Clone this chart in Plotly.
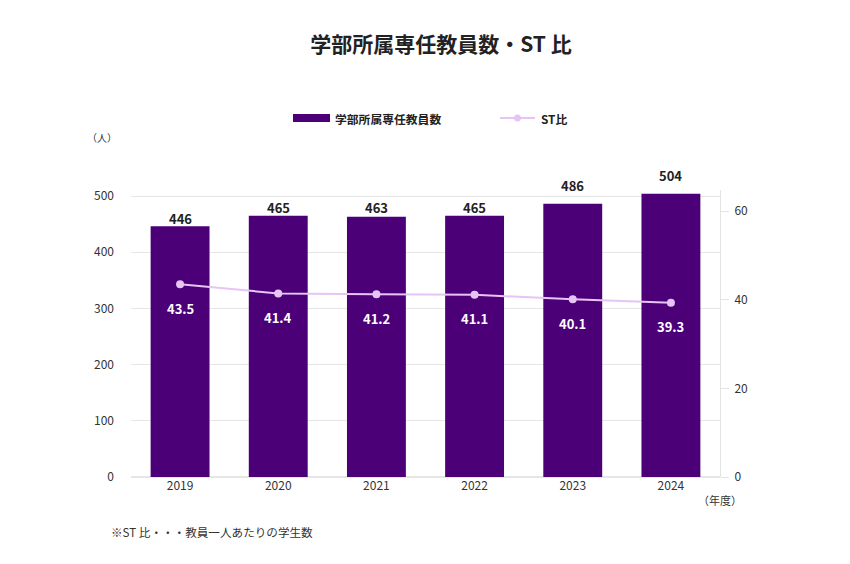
import plotly.graph_objects as go

years = ["2019", "2020", "2021", "2022", "2023", "2024"]
faculty = [446, 465, 463, 465, 486, 504]
st_ratio = [43.5, 41.4, 41.2, 41.1, 40.1, 39.3]
left_ticks = [0, 100, 200, 300, 400, 500]
right_ticks = [0, 20, 40, 60]

BAR = "#4B0078"
LINE = "#E6C4F4"
FONT = "Noto Sans CJK JP"
# pixel gap between bar tops and their value labels (style only)
bar_label_gap = [8, 8, 9, 8, 18, 18]

W, H = 850, 564
OFF = 8  # page body margin
# target pixel geometry (screenshot coords)
PL, PR, PT, PB = 131, 720, 190, 477
L, R, T, B = PL - OFF, W - (PR - OFF), PT - OFF, H - (PB - OFF)
PW, PH = PR - PL, PB - PT


def px(x):
    return (x - PL) / PW


def py(y):
    return 1 - (y - PT) / PH


fig = go.Figure()
fig.add_trace(go.Bar(
    x=years, y=faculty, name="学部所属専任教員数",
    marker=dict(color=BAR, line=dict(width=0)), width=0.6,
    showlegend=False,
))
fig.add_trace(go.Scatter(
    x=years, y=st_ratio, name="ST比", yaxis="y2", mode="lines+markers",
    line=dict(color=LINE, width=2), marker=dict(color=LINE, size=8),
    showlegend=False,
))
for i, v in enumerate(faculty):
    fig.add_annotation(x=i, y=v, xref="x", yref="y", text=f"<b>{v}</b>",
                       showarrow=False, yshift=bar_label_gap[i],
                       font=dict(family=FONT, size=13, color="#222"))
for i, v in enumerate(st_ratio):
    fig.add_annotation(x=i, y=v, xref="x", yref="y2", text=f"<b>{v:.1f}</b>",
                       showarrow=False, yshift=-24,
                       font=dict(family=FONT, size=13, color="white"))

px_left = (477 - 196) / 500.0
px_right = (477 - 211) / 60.0
fig.update_layout(
    width=W, height=H, margin=dict(l=L, r=R, t=T, b=B),
    paper_bgcolor="white", plot_bgcolor="white",
    font=dict(family=FONT, size=12, color="#333"),
    title=dict(text="<b>学部所属専任教員数・ST 比</b>", x=(441 - OFF) / W, xanchor="center",
               y=1 - (45 - OFF) / H, yanchor="middle",
               font=dict(family=FONT, size=21, color="#222")),
    bargap=0.4,
    xaxis=dict(type="category", range=[-0.5, len(years) - 0.5],
               showgrid=False, showline=False, ticks="",
               tickfont=dict(family=FONT, size=12, color="#333")),
    yaxis=dict(range=[0, PH / px_left], tickvals=left_ticks,
               showgrid=True, gridcolor="#E6E6E6", gridwidth=1,
               zeroline=True, zerolinecolor="#E6E6E6", showline=False,
               ticks="", ticklabelstandoff=16,
               tickfont=dict(family=FONT, size=12, color="#333")),
    yaxis2=dict(range=[0, PH / px_right], tickvals=right_ticks,
                overlaying="y", side="right", showgrid=False, zeroline=False,
                showline=True, linecolor="#E3E3E3", linewidth=1,
                ticks="outside", ticklen=8, tickcolor="#E3E3E3",
                ticklabelstandoff=3,
                tickfont=dict(family=FONT, size=12, color="#333")),
    showlegend=False,
)

# custom legend
ly = py(118)
fig.add_shape(type="rect", xref="paper", yref="paper",
              x0=px(293), x1=px(330), y0=py(122), y1=py(114),
              fillcolor=BAR, line=dict(width=0))
fig.add_annotation(xref="paper", yref="paper", x=px(333), y=ly,
                   xanchor="left", yanchor="middle", showarrow=False,
                   text="<b>学部所属専任教員数</b>",
                   font=dict(family=FONT, size=11.8, color="#222"))
fig.add_shape(type="line", xref="paper", yref="paper",
              x0=px(500), x1=px(535), y0=ly, y1=ly,
              line=dict(color=LINE, width=2))
fig.add_shape(type="circle", xref="paper", yref="paper",
              x0=px(514), x1=px(521), y0=py(121.5), y1=py(114.5),
              fillcolor=LINE, line=dict(width=0))
fig.add_annotation(xref="paper", yref="paper", x=px(539), y=ly,
                   xanchor="left", yanchor="middle", showarrow=False,
                   text="<b>ST比</b>",
                   font=dict(family=FONT, size=11.8, color="#222"))

# unit labels and footnote
fig.add_annotation(xref="paper", yref="paper", x=px(102), y=py(137),
                   xanchor="center", yanchor="middle", showarrow=False,
                   text="（人）", font=dict(family=FONT, size=10, color="#333"))
fig.add_annotation(xref="paper", yref="paper", x=px(720), y=py(500),
                   xanchor="center", yanchor="middle", showarrow=False,
                   text="（年度）", font=dict(family=FONT, size=11, color="#333"))
fig.add_annotation(xref="paper", yref="paper", x=px(109), y=py(532),
                   xanchor="left", yanchor="middle", showarrow=False,
                   text="※ST 比・・・教員一人あたりの学生数",
                   font=dict(family=FONT, size=11.6, color="#333"))

fig.write_html("out.html")
